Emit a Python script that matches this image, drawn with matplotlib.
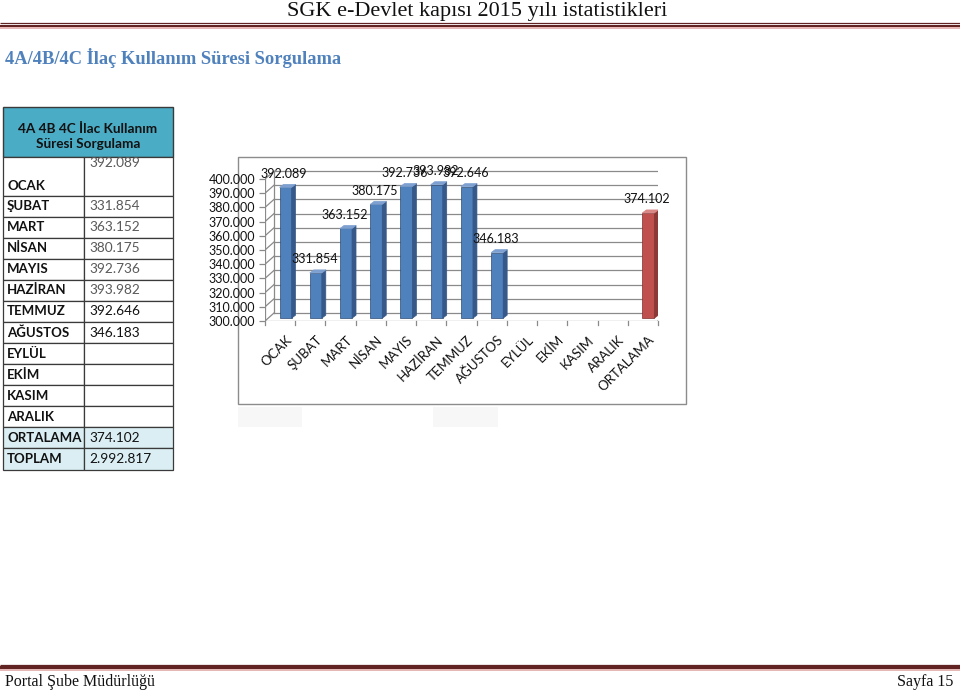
import matplotlib
matplotlib.use("Agg")
import matplotlib.pyplot as plt
from matplotlib.patches import Rectangle, Polygon

# ---------------- data ----------------
months = ["OCAK", "ŞUBAT", "MART", "NİSAN", "MAYIS", "HAZİRAN", "TEMMUZ",
          "AĞUSTOS", "EYLÜL", "EKİM", "KASIM", "ARALIK", "ORTALAMA"]
values = [392.089, 331.854, 363.152, 380.175, 392.736, 393.982, 392.646,
          346.183, None, None, None, None, 374.102]
table_labels = ["OCAK", "ŞUBAT", "MART", "NİSAN", "MAYIS", "HAZİRAN", "TEMMUZ",
                "AĞUSTOS", "EYLÜL", "EKİM", "KASIM", "ARALIK", "ORTALAMA", "TOPLAM"]
table_values = ["392.089", "331.854", "363.152", "380.175", "392.736", "393.982",
                "392.646", "346.183", "", "", "", "", "374.102", "2.992.817"]
yticks = [300, 310, 320, 330, 340, 350, 360, 370, 380, 390, 400]
header_title = "SGK e-Devlet kapısı 2015 yılı istatistikleri"
section_title = "4A/4B/4C İlaç Kullanım Süresi Sorgulama"
table_header = "4A 4B 4C İlac Kullanım\nSüresi Sorgulama"
footer_left = "Portal Şube Müdürlüğü"
footer_right = "Sayfa 15"

W, H = 960, 691
fig = plt.figure(figsize=(W / 100, H / 100), dpi=100)
fig.patch.set_facecolor("white")

# page axes in pixel coordinates
page = fig.add_axes([0, 0, 1, 1])
page.set_xlim(0, W)
page.set_ylim(H, 0)
page.axis("off")

SERIF = ["Liberation Serif", "DejaVu Serif"]
SANS = ["Lato", "DejaVu Sans"]
maroon = "#622423"
pink = "#E5B8B7"

# header
page.text(477, 11.5, header_title, ha="center", va="center", fontsize=16,
          family=SERIF, color="#111111")
page.plot([0, W], [23.3, 23.3], color=maroon, lw=0.9, solid_capstyle="butt")
page.add_patch(Rectangle((0, 24.7), W, 2.7, color=maroon, lw=0))
page.add_patch(Rectangle((0, 27.4), W, 1.9, color=pink, lw=0))

page.text(5, 58, section_title, ha="left", va="center", fontsize=13.3,
          family=SERIF, fontweight="bold", color="#4F81BD")

# footer
page.plot([0, W], [665, 665], color=maroon, lw=0.9, solid_capstyle="butt")
page.add_patch(Rectangle((0, 666), W, 3, color=maroon, lw=0))
page.add_patch(Rectangle((0, 669), W, 1.6, color=pink, lw=0))
page.text(5, 682, footer_left, ha="left", va="center", fontsize=11.5,
          family=SERIF, color="#111111")
page.text(953, 682, footer_right, ha="right", va="center", fontsize=11.5,
          family=SERIF, color="#111111")

# ---------------- table ----------------
tx0, tx1, tx2 = 3, 84, 173
ty_top, ty_head = 107, 157
ty_ocak = 195.5
row_h = 21.08
border = "#3a3a3a"
page.add_patch(Rectangle((tx0, ty_top), tx2 - tx0, ty_head - ty_top,
                         facecolor="#4BACC6", edgecolor=border, lw=1))
page.text((tx0 + tx2) / 2, (ty_top + ty_head) / 2 + 4, table_header,
          ha="center", va="center", fontsize=9.8, family=SANS,
          fontweight="bold", color="#111111", linespacing=1.3)

bounds = [ty_head, ty_ocak] + [ty_ocak + row_h * (k + 1) for k in range(len(table_labels) - 1)]
for i, (lab, val) in enumerate(zip(table_labels, table_values)):
    y0, y1 = bounds[i], bounds[i + 1]
    fill = "#DAEEF3" if lab in ("ORTALAMA", "TOPLAM") else "white"
    page.add_patch(Rectangle((tx0, y0), tx1 - tx0, y1 - y0, facecolor=fill,
                             edgecolor=border, lw=0.9))
    page.add_patch(Rectangle((tx1, y0), tx2 - tx1, y1 - y0, facecolor=fill,
                             edgecolor=border, lw=0.9))
    if i == 0:
        ly, vy = y1 - 9.5, y0 + 6
    else:
        ly = vy = (y0 + y1) / 2
    page.text(7, ly, lab, ha="left", va="center", fontsize=9.5, family=SANS,
              fontweight="bold", color="#111111")
    vcol = "#595959" if i < 6 else "#111111"
    page.text(89, vy, val, ha="left", va="center", fontsize=9.8, family=SANS,
              color=vcol)

# chart frame
page.add_patch(Rectangle((238, 157), 686 - 238, 404 - 157, facecolor="white",
                         edgecolor="#8c8c8c", lw=1))
page.add_patch(Rectangle((238, 407), 64, 20, facecolor="#f7f7f7", lw=0))
page.add_patch(Rectangle((433, 407), 65, 20, facecolor="#f7f7f7", lw=0))

# ---------------- chart ----------------
px_left, px_right = 265, 658
py_floor, py_top = 321, 150
ppu_y = 1.42
ymin = 300
ymax = ymin + (py_floor - py_top) / ppu_y
ax = fig.add_axes([px_left / W, (H - py_floor) / H,
                   (px_right - px_left) / W, (py_floor - py_top) / H])
ax.set_xlim(-0.5, len(months) - 0.5)
ax.set_ylim(ymin, ymax)
ax.patch.set_alpha(0)
for s in ax.spines.values():
    s.set_visible(False)

ppu_x = (px_right - px_left) / len(months)
DX, DY = 9 / ppu_x, 8 / ppu_y          # wall depth
BX, BY = 0.18, 2.0                     # bar front offset
bdx, bdy = 4 / ppu_x, 3 / ppu_y        # bar depth
bw = 12 / ppu_x
grid_c = "#8a8a8a"
xl, xr = -0.5, len(months) - 0.5

for v in yticks:
    ax.plot([xl + DX, xr + DX], [v + DY, v + DY], color=grid_c, lw=0.9, zorder=1)
    ax.plot([xl, xl + DX], [v, v + DY], color=grid_c, lw=0.9, zorder=1)
ax.plot([xl + DX, xl + DX], [yticks[0] + DY, yticks[-1] + DY], color=grid_c, lw=0.9, zorder=1)
ax.plot([xl, xl], [yticks[0], yticks[-1]], color=grid_c, lw=0.9, zorder=1)
ax.plot([xl, xr], [ymin, ymin], color=grid_c, lw=0.9, zorder=1)
ax.plot([xr, xr + DX], [ymin, ymin + DY], color=grid_c, lw=0.9, zorder=1)
for k in range(len(months) + 1):
    ax.plot([xl + k, xl + k], [ymin, ymin - 3], color=grid_c, lw=0.9, zorder=1,
            clip_on=False)

ax.set_yticks(yticks, [f"{v:.3f}" for v in yticks])
ax.tick_params(axis="y", length=4, width=0.9, color=grid_c, pad=3,
               labelsize=9, labelcolor="#111111")
for t in ax.get_yticklabels():
    t.set_family(SANS)

ax.set_xticks([i + BX for i in range(len(months))], months)
ax.tick_params(axis="x", length=0, pad=9, labelsize=9.5, labelcolor="#111111")
for t in ax.get_xticklabels():
    t.set_family(SANS)
    t.set_rotation(45)
    t.set_ha("right")
    t.set_rotation_mode("anchor")

for i, v in enumerate(values):
    if v is None:
        continue
    red = months[i] == "ORTALAMA"
    front = "#C0504D" if red else "#4F81BD"
    side = "#8C3836" if red else "#36598A"
    top = "#D98684" if red else "#7DA0D0"
    x0 = i + BX - bw / 2
    x1 = i + BX + bw / 2
    y0 = ymin + BY
    y1 = v + BY
    ax.add_patch(Rectangle((x0, y0), bw, y1 - y0, facecolor=front,
                           edgecolor="#2c4a70" if not red else "#7a2e2c", lw=0.5, zorder=3))
    ax.add_patch(Polygon([(x1, y0), (x1 + bdx, y0 + bdy), (x1 + bdx, y1 + bdy), (x1, y1)],
                         closed=True, facecolor=side, edgecolor=side, lw=0.5, zorder=3))
    ax.add_patch(Polygon([(x0, y1), (x1, y1), (x1 + bdx, y1 + bdy), (x0 + bdx, y1 + bdy)],
                         closed=True, facecolor=top, edgecolor=top, lw=0.5, zorder=3))
    ax.annotate(f"{v:.3f}", xy=(i + BX, v + DY), xytext=(-1, 6.1),
                textcoords="offset points", ha="center", va="center",
                fontsize=9, family=SANS, color="#111111", zorder=5,
                annotation_clip=False)

fig.savefig("out.png", dpi=100, facecolor="white")
